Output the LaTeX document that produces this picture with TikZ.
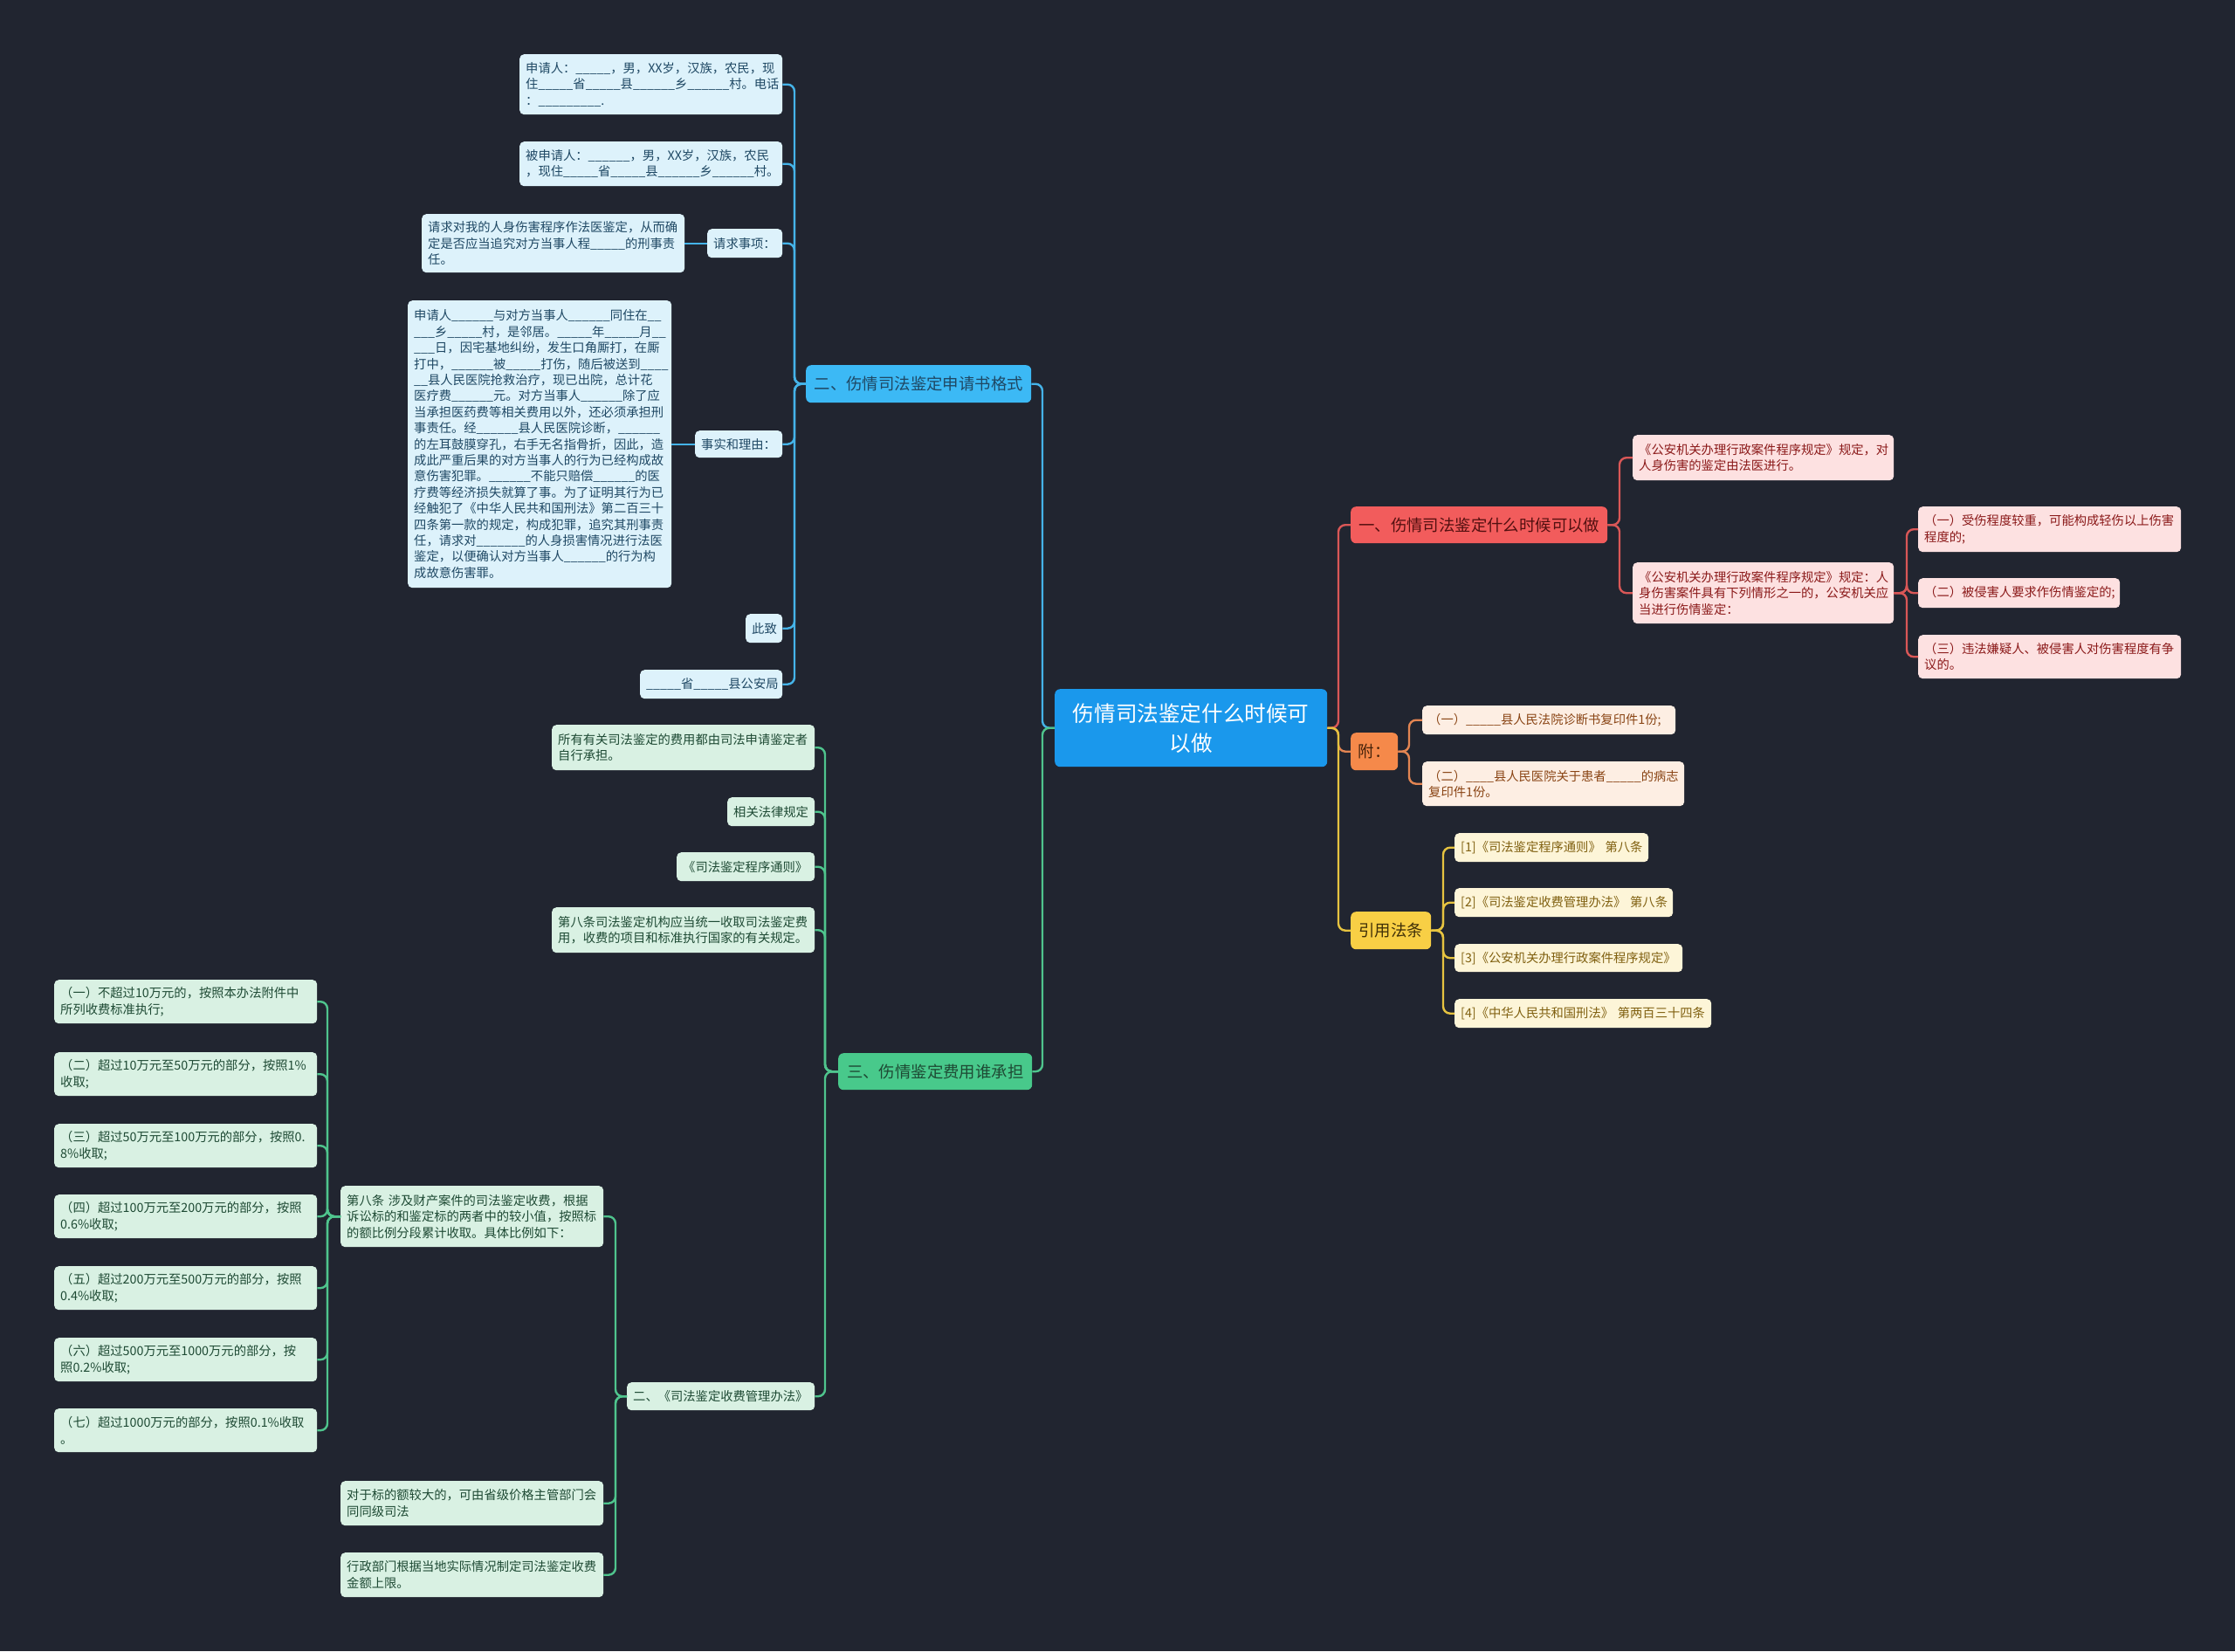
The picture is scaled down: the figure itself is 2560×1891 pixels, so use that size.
\documentclass[tikz,border=0pt]{standalone}
\usepackage{fontspec}
\setmainfont{Noto Sans CJK SC}
\definecolor{bgc}{HTML}{212530}
\definecolor{rootc}{HTML}{1A98EC}
\definecolor{bfill}{HTML}{3CB9F5}\definecolor{bleaf}{HTML}{DDF2FB}\definecolor{btext}{HTML}{1F4864}\definecolor{bln}{HTML}{45B3E8}
\definecolor{gfill}{HTML}{48C98B}\definecolor{gleaf}{HTML}{D9F1E3}\definecolor{gtext}{HTML}{1E4A34}\definecolor{gln}{HTML}{4FC48D}
\definecolor{rfill}{HTML}{F25C5C}\definecolor{rleaf}{HTML}{FDE1E1}\definecolor{rtext}{HTML}{8B1A1A}\definecolor{rln}{HTML}{D95757}
\definecolor{ofill}{HTML}{F5894A}\definecolor{oleaf}{HTML}{FDEEE3}\definecolor{otext}{HTML}{8A4515}\definecolor{oln}{HTML}{E38552}
\definecolor{yfill}{HTML}{F8CF45}\definecolor{yleaf}{HTML}{FDF5D8}\definecolor{ytext}{HTML}{806010}\definecolor{yln}{HTML}{E6C340}
\tikzset{
  box/.style={rounded corners=5pt, inner xsep=7pt, inner ysep=0pt, anchor=north west, align=left,
    font=\fontsize{14.3}{18.4}\selectfont},
  bbox/.style={box, fill=bleaf, text=btext},
  gbox/.style={box, fill=gleaf, text=gtext},
  rbox/.style={box, fill=rleaf, text=rtext},
  obox/.style={box, fill=oleaf, text=otext},
  ybox/.style={box, fill=yleaf, text=ytext},
  branch/.style={rounded corners=6pt, inner xsep=0pt, inner ysep=0pt, anchor=north west, align=center,
    font=\fontsize{18.4}{22}\selectfont},
  conn/.style={line width=2.4pt, rounded corners=8pt},
  bl/.style={conn, draw=bln}, gl/.style={conn, draw=gln}, rl/.style={conn, draw=rln},
  ol/.style={conn, draw=oln}, yl/.style={conn, draw=yln},
}
\begin{document}
\catcode`\_=12
\begin{tikzpicture}[x=1pt,y=-1pt]
\fill[bgc] (0,0) rectangle (2560,1891);
\useasboundingbox (0,0) rectangle (2560,1891);
% trunks
\coordinate (tRR) at (1533,0);
\coordinate (tRL) at (1194,0);
\coordinate (tB) at (910,0);
\coordinate (tG) at (945,0);
\coordinate (tG5) at (705,0);
\coordinate (tP) at (375,0);
\coordinate (tR) at (1855,0);
\coordinate (tR2) at (2184,0);
\coordinate (tO) at (1614,0);
\coordinate (tY) at (1653,0);
% root
\node[rounded corners=6pt, fill=rootc, text=white, anchor=north west, inner sep=0pt,
  minimum width=312pt, minimum height=89pt, align=center, text width=292pt,
  font=\fontsize{24.6}{34}\selectfont] (root) at (1208,789) {伤情司法鉴定什么时候可\\以做};
% branches
\node[branch, fill=bfill, text=btext, minimum width=258pt, minimum height=43pt] (B) at (923,418) {二、伤情司法鉴定申请书格式};
\node[branch, fill=gfill, text=gtext, minimum width=222pt, minimum height=42pt] (G) at (960,1206) {三、伤情鉴定费用谁承担};
\node[branch, fill=rfill, text=rtext!60!black, minimum width=294pt, minimum height=42pt] (R) at (1547,580) {一、伤情司法鉴定什么时候可以做};
\node[branch, fill=ofill, text=otext!50!black, minimum width=54pt, minimum height=43pt] (O) at (1547,839) {附：};
\node[branch, fill=yfill, text=ytext!50!black, minimum width=92pt, minimum height=43pt] (Y) at (1547,1044) {引用法条};
% blue leaves
\node[bbox, text width=287pt, minimum height=69pt] (a1) at (595,62) {申请人：_____，男，XX岁，汉族，农民，现\\住_____省_____县______乡______村。电话\\：_________.};
\node[bbox, text width=287pt, minimum height=51pt] (a2) at (595,162) {被申请人：______，男，XX岁，汉族，农民\\，现住_____省_____县______乡______村。};
\node[bbox, text width=72pt, minimum height=33pt] (a3) at (810,262) {请求事项：};
\node[bbox, text width=287pt, minimum height=67pt] (a3c) at (483,245) {请求对我的人身伤害程序作法医鉴定，从而确\\定是否应当追究对方当事人程_____的刑事责\\任。};
\node[bbox, text width=86pt, minimum height=31pt] (a4) at (796,493) {事实和理由：};
\node[bbox, text width=288pt, minimum height=329pt] (a4c) at (467,344) {申请人______与对方当事人______同住在__\\___乡_____村，是邻居。_____年_____月__\\___日，因宅基地纠纷，发生口角厮打，在厮\\打中，______被_____打伤，随后被送到____\\__县人民医院抢救治疗，现已出院，总计花\\医疗费______元。对方当事人______除了应\\当承担医药费等相关费用以外，还必须承担刑\\事责任。经______县人民医院诊断，______\\的左耳鼓膜穿孔，右手无名指骨折，因此，造\\成此严重后果的对方当事人的行为已经构成故\\意伤害犯罪。______不能只赔偿______的医\\疗费等经济损失就算了事。为了证明其行为已\\经触犯了《中华人民共和国刑法》第二百三十\\四条第一款的规定，构成犯罪，追究其刑事责\\任，请求对_______的人身损害情况进行法医\\鉴定，以便确认对方当事人______的行为构\\成故意伤害罪。};
\node[bbox, text width=28pt, minimum height=33pt] (a5) at (854,703) {此致};
\node[bbox, text width=149pt, minimum height=33pt] (a6) at (733,767) {_____省_____县公安局};
% green leaves
\node[gbox, text width=287pt, minimum height=52pt] (g1) at (632,830) {所有有关司法鉴定的费用都由司法申请鉴定者\\自行承担。};
\node[gbox, text width=86pt, minimum height=33pt] (g2) at (833,913) {相关法律规定};
\node[gbox, text width=144pt, minimum height=33pt] (g3) at (775,976) {《司法鉴定程序通则》};
\node[gbox, text width=287pt, minimum height=52pt] (g4) at (632,1039) {第八条司法鉴定机构应当统一收取司法鉴定费\\用，收费的项目和标准执行国家的有关规定。};
\node[gbox, text width=201pt, minimum height=32pt] (g5) at (718,1583) {二、《司法鉴定收费管理办法》};
\node[gbox, text width=287pt, minimum height=70pt] (g5a) at (390,1358) {第八条 涉及财产案件的司法鉴定收费，根据\\诉讼标的和鉴定标的两者中的较小值，按照标\\的额比例分段累计收取。具体比例如下：};
\node[gbox, text width=287pt, minimum height=51pt] (g5b) at (390,1696) {对于标的额较大的，可由省级价格主管部门会\\同同级司法};
\node[gbox, text width=287pt, minimum height=51pt] (g5c) at (390,1778) {行政部门根据当地实际情况制定司法鉴定收费\\金额上限。};
\node[gbox, text width=287pt, minimum height=50pt] (p1) at (62,1122) {（一）不超过10万元的，按照本办法附件中\\所列收费标准执行;};
\node[gbox, text width=287pt, minimum height=50pt] (p2) at (62,1205) {（二）超过10万元至50万元的部分，按照1\%\\收取;};
\node[gbox, text width=287pt, minimum height=50pt] (p3) at (62,1287) {（三）超过50万元至100万元的部分，按照0.\\8\%收取;};
\node[gbox, text width=287pt, minimum height=50pt] (p4) at (62,1368) {（四）超过100万元至200万元的部分，按照\\0.6\%收取;};
\node[gbox, text width=287pt, minimum height=50pt] (p5) at (62,1450) {（五）超过200万元至500万元的部分，按照\\0.4\%收取;};
\node[gbox, text width=287pt, minimum height=50pt] (p6) at (62,1532) {（六）超过500万元至1000万元的部分，按\\照0.2\%收取;};
\node[gbox, text width=287pt, minimum height=50pt] (p7) at (62,1613) {（七）超过1000万元的部分，按照0.1\%收取\\。};
% red leaves
\node[rbox, text width=285pt, minimum height=52pt] (r1) at (1870,498) {《公安机关办理行政案件程序规定》规定，对\\人身伤害的鉴定由法医进行。};
\node[rbox, text width=285pt, minimum height=70pt] (r2) at (1870,644) {《公安机关办理行政案件程序规定》规定：人\\身伤害案件具有下列情形之一的，公安机关应\\当进行伤情鉴定：};
\node[rbox, text width=287pt, minimum height=52pt] (r2a) at (2197,580) {（一）受伤程度较重，可能构成轻伤以上伤害\\程度的;};
\node[rbox, text width=217pt, minimum height=34pt] (r2b) at (2197,662) {（二）被侵害人要求作伤情鉴定的;};
\node[rbox, text width=287pt, minimum height=50pt] (r2c) at (2197,727) {（三）违法嫌疑人、被侵害人对伤害程度有争\\议的。};
% orange leaves
\node[obox, text width=276pt, minimum height=33pt] (o1) at (1629,808) {（一）_____县人民法院诊断书复印件1份;};
\node[obox, text width=286pt, minimum height=51pt] (o2) at (1629,872) {（二）____县人民医院关于患者_____的病志\\复印件1份。};
% yellow leaves
\node[ybox, text width=208pt, minimum height=33pt] (y1) at (1666,954) {\mbox{[1]《司法鉴定程序通则》 第八条}};
\node[ybox, text width=236pt, minimum height=33pt] (y2) at (1666,1017) {\mbox{[2]《司法鉴定收费管理办法》 第八条}};
\node[ybox, text width=247pt, minimum height=32pt] (y3) at (1666,1081) {\mbox{[3]《公安机关办理行政案件程序规定》}};
\node[ybox, text width=280pt, minimum height=33pt] (y4) at (1666,1144) {\mbox{[4]《中华人民共和国刑法》 第两百三十四条}};
% connectors root
\draw[rl] (root.east) -- (root.east -| tRR) |- (R.west);
\draw[ol] (root.east) -- (root.east -| tRR) |- (O.west);
\draw[yl] (root.east) -- (root.east -| tRR) |- (Y.west);
\draw[bl] (root.west) -- (root.west -| tRL) |- (B.east);
\draw[gl] (root.west) -- (root.west -| tRL) |- (G.east);
% blue
\foreach \c in {a1,a2,a3,a4,a5,a6} \draw[bl] (B.west) -- (B.west -| tB) |- (\c.east);
\draw[bl] (a3.west) -- (a3c.east);
\draw[bl] (a4.west) -- (a4c.east);
% green
\foreach \c in {g1,g2,g3,g4,g5} \draw[gl] (G.west) -- (G.west -| tG) |- (\c.east);
\foreach \c in {g5a,g5b,g5c} \draw[gl] (g5.west) -- (g5.west -| tG5) |- (\c.east);
\foreach \c in {p1,p2,p3,p4,p5,p6,p7} \draw[gl] (g5a.west) -- (g5a.west -| tP) |- (\c.east);
% red
\foreach \c in {r1,r2} \draw[rl] (R.east) -- (R.east -| tR) |- (\c.west);
\foreach \c in {r2a,r2b,r2c} \draw[rl] (r2.east) -- (r2.east -| tR2) |- (\c.west);
% orange
\foreach \c in {o1,o2} \draw[ol] (O.east) -- (O.east -| tO) |- (\c.west);
% yellow
\foreach \c in {y1,y2,y3,y4} \draw[yl] (Y.east) -- (Y.east -| tY) |- (\c.west);
\end{tikzpicture}
\end{document}
